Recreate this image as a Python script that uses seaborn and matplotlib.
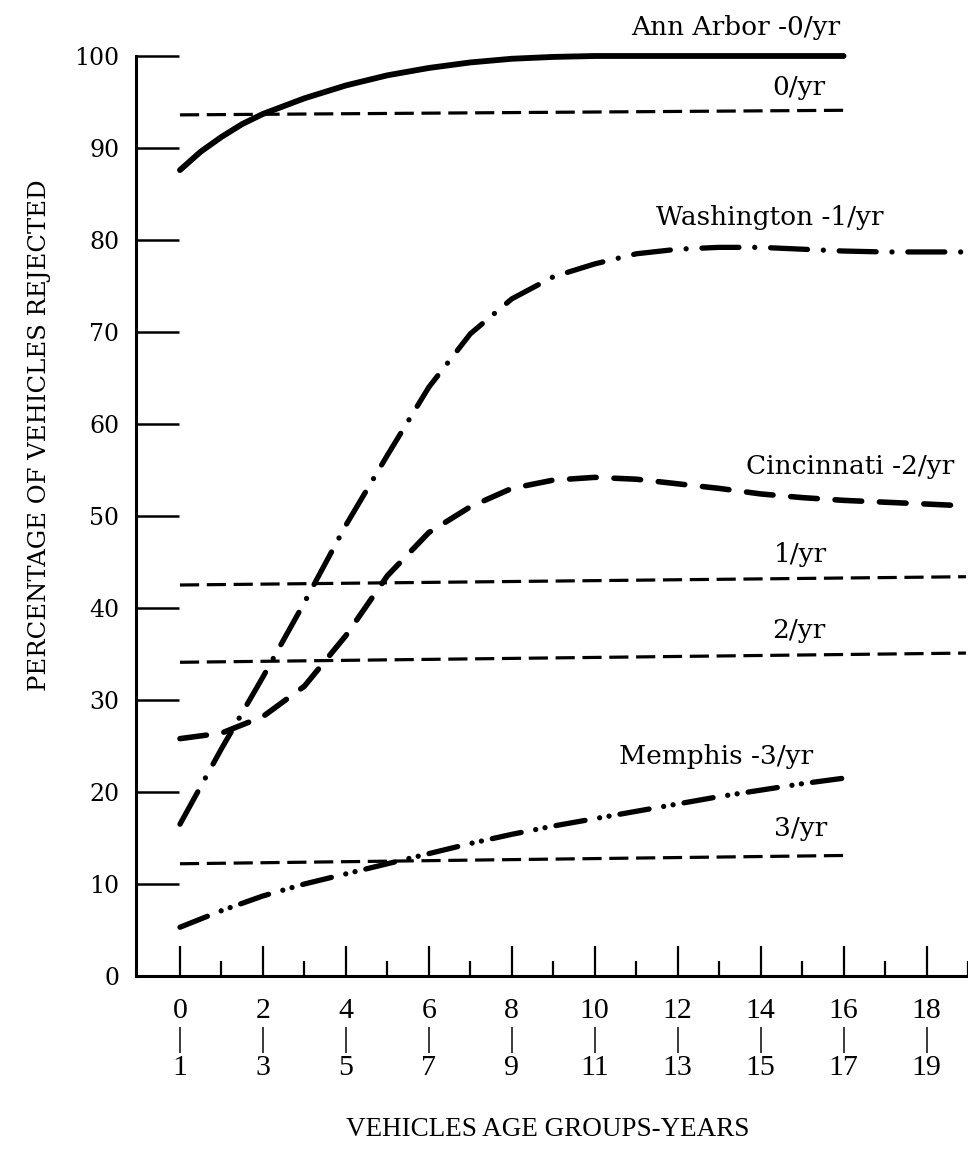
import matplotlib
matplotlib.use("Agg")
import matplotlib.pyplot as plt
import seaborn as sns

# ---------------- data ----------------
age_aa = [0, 0.5, 1, 1.5, 2, 3, 4, 5, 6, 7, 8, 9, 10, 11, 12, 13, 14, 15, 16]
ann_arbor = [87.6, 89.6, 91.2, 92.6, 93.7, 95.4, 96.8, 97.9, 98.7, 99.3, 99.7, 99.9,
             100.0, 100.0, 100.0, 100.0, 100.0, 100.0, 100.0]

age_19 = [0, 1, 2, 3, 4, 5, 6, 7, 8, 9, 10, 11, 12, 13, 14, 15, 16, 17, 18, 18.95]
washington = [16.5, 24.7, 32.5, 40.6, 49.0, 56.6, 64.0, 69.8, 73.6, 76.0,
              77.4, 78.5, 79.0, 79.2, 79.2, 79.0, 78.8, 78.7, 78.7, 78.7]
cincinnati = [25.8, 26.4, 28.2, 31.5, 37.0, 43.5, 48.2, 51.0, 53.0, 53.9,
              54.2, 54.0, 53.5, 53.0, 52.4, 52.0, 51.7, 51.5, 51.3, 51.1]

age_16 = [0, 1, 2, 3, 4, 5, 6, 7, 8, 9, 10, 11, 12, 13, 14, 15, 16]
memphis = [5.3, 7.1, 8.7, 10.0, 11.1, 12.2, 13.3, 14.4, 15.4, 16.3,
           17.1, 17.9, 18.7, 19.5, 20.2, 20.9, 21.5]

ref_0_x = [0, 16]
ref_0_y = [93.6, 94.1]
ref_1_x = [0, 18.95]
ref_1_y = [42.5, 43.4]
ref_2_x = [0, 18.95]
ref_2_y = [34.1, 35.1]
ref_3_x = [0, 16]
ref_3_y = [12.2, 13.1]

y_ticks = [0, 10, 20, 30, 40, 50, 60, 70, 80, 90, 100]
x_major = [0, 2, 4, 6, 8, 10, 12, 14, 16, 18]
x_minor = [1, 3, 5, 7, 9, 11, 13, 15, 17, 19]
x_tick_labels = [f"{a}\n|\n{a + 1}" for a in x_major]

labels = ["Ann Arbor -0/yr", "0/yr", "Washington -1/yr", "Cincinnati -2/yr",
          "1/yr", "2/yr", "Memphis -3/yr", "3/yr"]
label_x = [15.93, 15.57, 16.96, 18.67, 15.6, 15.57, 15.26, 15.6]
label_y = [102.3, 95.8, 81.6, 54.6, 45.0, 36.7, 23.0, 15.2]

# ---------------- style ----------------
sns.set_style("ticks")
plt.rcParams["font.family"] = ["DejaVu Serif", "DejaVu Sans"]
plt.rcParams["text.color"] = "black"
plt.rcParams["axes.labelcolor"] = "black"
plt.rcParams["xtick.color"] = "black"
plt.rcParams["ytick.color"] = "black"

fig = plt.figure(figsize=(9.68, 11.68), dpi=100)
ax = fig.add_axes([136 / 968, 1 - 976 / 1168, 832 / 968, 920 / 1168])

K = "black"

# reference (thin dashed) lines
for rx, ry in [(ref_0_x, ref_0_y), (ref_1_x, ref_1_y), (ref_2_x, ref_2_y), (ref_3_x, ref_3_y)]:
    sns.lineplot(x=rx, y=ry, ax=ax, color=K, linewidth=2.3,
                 linestyle=(0, (6.0, 2.4)), dash_capstyle="butt", clip_on=False)

# city curves
sns.lineplot(x=age_aa, y=ann_arbor, ax=ax, color=K, linewidth=4.2,
             solid_capstyle="round", solid_joinstyle="round", clip_on=False)
sns.lineplot(x=age_19, y=washington, ax=ax, color=K, linewidth=3.8,
             linestyle=(0, (7.0, 3.0, 0.01, 3.0)), dash_capstyle="round", clip_on=False)
sns.lineplot(x=age_19, y=cincinnati, ax=ax, color=K, linewidth=4.0,
             linestyle=(0, (4.8, 3.2)), dash_capstyle="round", clip_on=False)
sns.lineplot(x=age_16, y=memphis, ax=ax, color=K, linewidth=3.8,
             linestyle=(0, (5.6, 2.8, 0.01, 1.8, 0.01, 2.1)), dash_capstyle="round",
             clip_on=False)

# text labels
for t, lx, ly in zip(labels, label_x, label_y):
    ax.text(lx, ly, t, ha="right", va="baseline", fontsize=19, color=K,
            family=["DejaVu Serif", "DejaVu Sans"], clip_on=False)

# axes
ax.set_xlim(-1.06, 18.96)
ax.set_ylim(0, 100)
sns.despine(ax=ax, top=True, right=True)
for s in ["left", "bottom"]:
    ax.spines[s].set_linewidth(2.2)
    ax.spines[s].set_color(K)

ax.set_yticks(y_ticks)
ax.set_yticklabels([str(v) for v in y_ticks], fontsize=17, color=K)
ax.tick_params(axis="y", direction="in", length=31, width=1.8, pad=12, colors=K)

ax.set_xticks(x_major)
ax.set_xticks(x_minor, minor=True)
ax.set_xticklabels(x_tick_labels, fontsize=21.5, family=["Liberation Serif"],
                   linespacing=1.12, color=K)
ax.tick_params(axis="x", which="major", direction="in", length=21.6, width=1.6,
               pad=16, colors=K)
ax.tick_params(axis="x", which="minor", direction="in", length=10.8, width=1.6, colors=K)

ax.set_xlabel("VEHICLES AGE GROUPS-YEARS", fontsize=19.5, family=["Liberation Serif"],
              color=K)
ax.xaxis.label.set_va("center")
ax.xaxis.set_label_coords((548 - 136) / 832, (976 - 1130) / 920)

ax.set_ylabel("PERCENTAGE OF VEHICLES REJECTED", fontsize=17.5,
              family=["DejaVu Serif"], color=K)
ax.yaxis.label.set_va("center")
ax.yaxis.set_label_coords((40 - 136) / 832, (976 - 435) / 920)

fig.savefig("out.png", dpi=100, facecolor="white")
